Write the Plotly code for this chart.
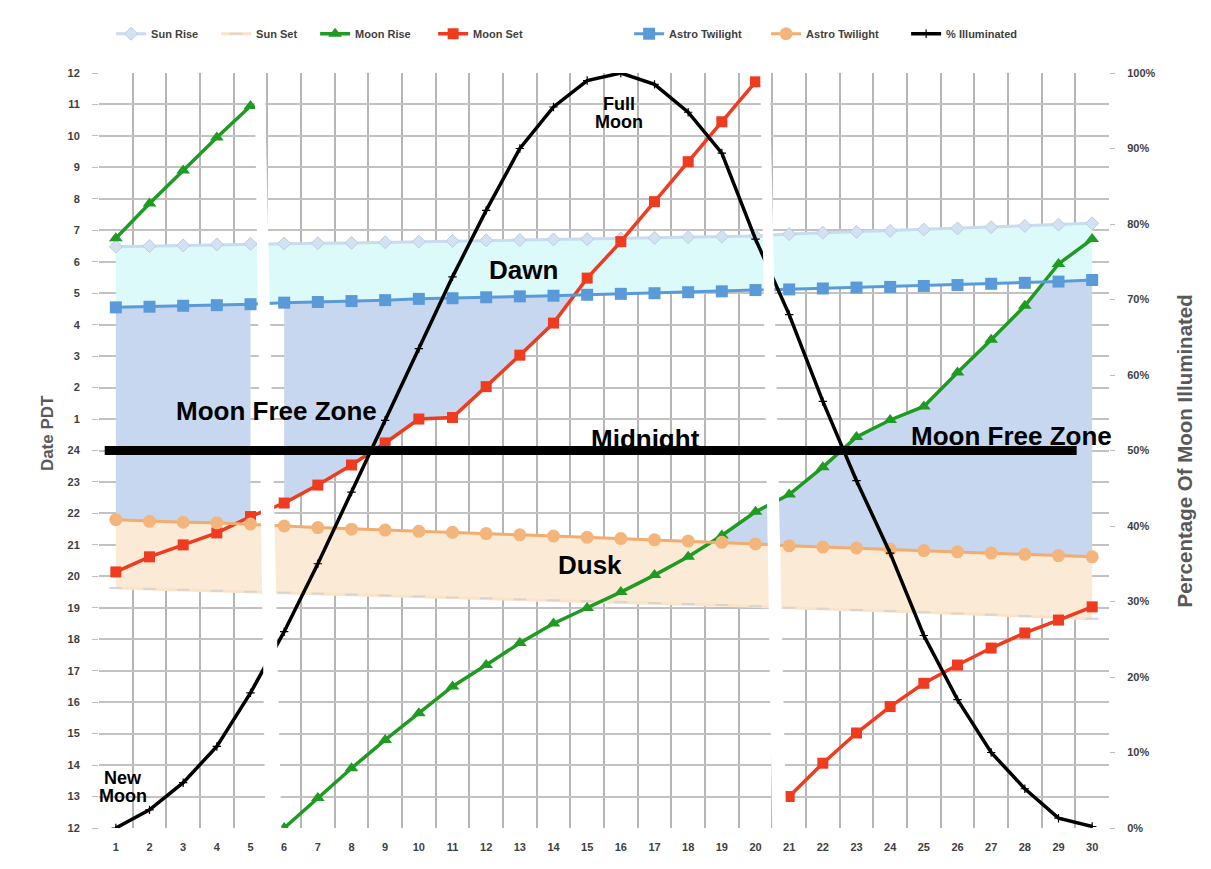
import numpy as np
import plotly.graph_objects as go

# ---------------- data (hours on a noon-to-noon scale: 12 = noon, 24 = midnight, 36 = next noon)
days = list(range(1, 31))

sun_rise = [30.48, 30.50, 30.52, 30.55, 30.57, 30.58, 30.59, 30.60, 30.62, 30.64,
            30.66, 30.68, 30.69, 30.71, 30.72, 30.74, 30.76, 30.78, 30.80, 30.82,
            30.88, 30.92, 30.95, 30.98, 31.02, 31.06, 31.10, 31.14, 31.18, 31.22]

sun_set = [19.63, 19.60, 19.57, 19.54, 19.51, 19.48, 19.45, 19.42, 19.39, 19.36,
           19.33, 19.30, 19.27, 19.24, 19.21, 19.18, 19.15, 19.12, 19.09, 19.05,
           19.00, 18.97, 18.93, 18.90, 18.86, 18.82, 18.78, 18.74, 18.70, 18.65]

moon_rise = [30.75, 31.85, 32.90, 33.95, 34.95, 12.00, 12.95, 13.90, 14.80, 15.65,
             16.50, 17.18, 17.88, 18.50, 18.99, 19.50, 20.04, 20.62, 21.30, 22.05,
             22.60, 23.47, 24.43, 24.97, 25.40, 26.48, 27.52, 28.60, 29.93, 30.72]

moon_set = [20.14, 20.62, 21.00, 21.38, 21.90, 22.33, 22.90, 23.54, 24.24, 25.00,
            25.05, 26.03, 27.03, 28.05, 29.48, 30.64, 31.91, 33.18, 34.45, 35.72,
            13.00, 14.06, 15.02, 15.86, 16.60, 17.18, 17.72, 18.20, 18.61, 19.03]

astro_am = [28.55, 28.57, 28.60, 28.62, 28.65, 28.70, 28.72, 28.75, 28.78, 28.82,
            28.84, 28.87, 28.90, 28.92, 28.95, 28.98, 29.00, 29.03, 29.06, 29.10,
            29.12, 29.15, 29.18, 29.20, 29.23, 29.26, 29.30, 29.33, 29.37, 29.42]

astro_pm = [21.80, 21.75, 21.72, 21.70, 21.66, 21.60, 21.55, 21.50, 21.47, 21.43,
            21.40, 21.36, 21.32, 21.28, 21.24, 21.20, 21.16, 21.12, 21.08, 21.03,
            20.97, 20.93, 20.90, 20.86, 20.82, 20.78, 20.74, 20.70, 20.66, 20.62]

illuminated = [0.0, 2.4, 6.0, 10.8, 17.9, 26.0, 35.0, 44.5, 54.0, 63.5,
               73.0, 81.8, 90.0, 95.5, 99.0, 100.0, 98.5, 94.8, 89.4, 78.0,
               68.0, 56.5, 46.0, 36.4, 25.5, 17.0, 10.0, 5.2, 1.3, 0.2]

hour_ticks = list(range(12, 37))
hour_labels = [str(h) if h <= 24 else str(h - 24) for h in hour_ticks]
pct_ticks = list(range(0, 101, 10))

FONT = "Liberation Sans, Arial, sans-serif"
VGRID = "#b6b6b6"
HGRID = "#c2c2c2"
TXT = "#3f3f3f"


# ---------------- helpers (fill polygons derived from the series)
def split_wraps(xs, ys):
    """Insert None where the time wraps around noon (big jump)."""
    ox, oy = [xs[0]], [ys[0]]
    for i in range(1, len(xs)):
        if abs(ys[i] - ys[i - 1]) > 12:
            ox.append(None)
            oy.append(None)
        ox.append(xs[i])
        oy.append(ys[i])
    return ox, oy


def cross_insert(xs, a, b):
    ox, oa, ob = [xs[0]], [a[0]], [b[0]]
    for i in range(1, len(xs)):
        d0 = a[i - 1] - b[i - 1]
        d1 = a[i] - b[i]
        if d0 * d1 < 0:
            t = d0 / (d0 - d1)
            xc = xs[i - 1] + t * (xs[i] - xs[i - 1])
            yc = a[i - 1] + t * (a[i] - a[i - 1])
            ox.append(xc); oa.append(yc); ob.append(yc)
        ox.append(xs[i]); oa.append(a[i]); ob.append(b[i])
    return ox, oa, ob


def band_polys(xs, lo, hi):
    xs2, lo2, hi2 = cross_insert(xs, lo, hi)
    polys, cur = [], []
    for x, l, h in zip(xs2, lo2, hi2):
        if h >= l - 1e-9:
            cur.append((x, l, h))
        else:
            if len(cur) > 1:
                polys.append(cur)
            cur = []
    if len(cur) > 1:
        polys.append(cur)
    out = []
    for p in polys:
        px = [q[0] for q in p] + [q[0] for q in p][::-1]
        py = [q[2] for q in p] + [q[1] for q in p][::-1]
        out.append((px, py))
    return out


d = np.array(days, dtype=float)
twi_am = np.array(astro_am)
twi_pm = np.array(astro_pm)
mr = np.array(moon_rise)
ms = np.array(moon_set)

moon_free = []
# days 1-5 : between max(evening twilight, moon set) and morning twilight
xa, ea, sa = cross_insert(list(d[0:5]), list(twi_pm[0:5]), list(ms[0:5]))
lo_a = list(np.maximum(ea, sa))
hi_a = list(np.interp(xa, d, twi_am))
moon_free += band_polys(xa, lo_a, hi_a)
# days 6-20 : between moon set and morning twilight
moon_free += band_polys(list(d[5:20]), list(ms[5:20]), list(twi_am[5:20]))
# days 6-30 : between evening twilight and min(moon rise, morning twilight)
xc, rc, tc = cross_insert(list(d[5:30]), list(mr[5:30]), list(twi_am[5:30]))
hi_c = list(np.minimum(rc, tc))
lo_c = list(np.interp(xc, d, twi_pm))
moon_free += band_polys(xc, lo_c, hi_c)

fig = go.Figure()

# dusk band
fig.add_trace(go.Scatter(x=days + days[::-1], y=astro_pm + sun_set[::-1], fill="toself",
                         fillcolor="#fbebd6", line=dict(width=0), mode="lines",
                         showlegend=False, hoverinfo="skip"))
# dawn band
fig.add_trace(go.Scatter(x=days + days[::-1], y=sun_rise + astro_am[::-1], fill="toself",
                         fillcolor="#dcfafa", line=dict(width=0), mode="lines",
                         showlegend=False, hoverinfo="skip"))
# moon free zone
for px, py in moon_free:
    fig.add_trace(go.Scatter(x=px, y=py, fill="toself", fillcolor="#c7d7ef",
                             line=dict(width=0), mode="lines",
                             showlegend=False, hoverinfo="skip"))

# series
fig.add_trace(go.Scatter(x=days, y=sun_rise, name="Sun Rise", mode="lines+markers",
                         line=dict(color="#c8dbef", width=3),
                         marker=dict(symbol="diamond", size=10, color="#d3e2f2",
                                     line=dict(color="#b9cde4", width=1)),
                         legendrank=1, legendwidth=60))
fig.add_trace(go.Scatter(x=days, y=sun_set, name="Sun Set", mode="lines+markers",
                         line=dict(color="#fbe3c9", width=3),
                         marker=dict(symbol="line-ew", size=9,
                                     line=dict(color="#d8d4d0", width=2)),
                         legendrank=2, legendwidth=54))
mrx, mry = split_wraps(days, moon_rise)
fig.add_trace(go.Scatter(x=mrx, y=mry, name="Moon Rise", mode="lines+markers",
                         line=dict(color="#1f9a22", width=3.5),
                         marker=dict(symbol="triangle-up", size=12, color="#1f9a22"),
                         legendrank=3, legendwidth=73))
msx, msy = split_wraps(days, moon_set)
fig.add_trace(go.Scatter(x=msx, y=msy, name="Moon Set", mode="lines+markers",
                         line=dict(color="#ef3b1f", width=3.5),
                         marker=dict(symbol="square", size=11, color="#ef3b1f"),
                         legendrank=4, legendwidth=151))
fig.add_trace(go.Scatter(x=days, y=astro_am, name="Astro Twilight", mode="lines+markers",
                         line=dict(color="#5b9ad8", width=3),
                         marker=dict(symbol="square", size=12, color="#5b9ad8"),
                         legendrank=5, legendwidth=92))
fig.add_trace(go.Scatter(x=days, y=astro_pm, name="Astro Twilight", mode="lines+markers",
                         line=dict(color="#f2ad6e", width=3),
                         marker=dict(symbol="circle", size=13, color="#f4b57c"),
                         legendrank=6, legendwidth=95))
fig.add_trace(go.Scatter(x=days, y=illuminated, name="% Illuminated", mode="lines+markers",
                         yaxis="y2", line=dict(color="#000000", width=3.5),
                         marker=dict(symbol="cross-thin", size=6,
                                     line=dict(color="#000000", width=1.2)),
                         legendrank=7, legendwidth=85))

# white stitching gaps of the original picture, then the midnight bar
shapes = [
    dict(type="path", xref="x", yref="y", path="M 5.12,35.9 L 5.42,35.9 L 5.92,11.8 L 5.45,11.8 Z",
         fillcolor="white", line=dict(width=0), layer="above"),
    dict(type="path", xref="x", yref="y", path="M 20.14,35.9 L 20.42,35.9 L 20.92,11.8 L 20.5,11.8 Z",
         fillcolor="white", line=dict(width=0), layer="above"),
    dict(type="line", xref="x", yref="y", x0=0.67, x1=29.54, y0=24, y1=24,
         line=dict(color="black", width=9), layer="above"),
]

big = dict(family=FONT, size=26, color="black", weight="bold")
small = dict(family=FONT, size=18, color="black", weight="bold")
annotations = [
    dict(x=5.77, y=25.24, text="Moon Free Zone", font=big),
    dict(x=27.61, y=24.45, text="Moon Free Zone", font=big),
    dict(x=16.72, y=24.38, text="Midnight", font=big),
    dict(x=13.12, y=29.75, text="Dawn", font=big),
    dict(x=15.08, y=20.36, text="Dusk", font=big),
    dict(x=15.96, y=35.02, text="Full", font=small),
    dict(x=15.96, y=34.45, text="Moon", font=small),
    dict(x=1.22, y=13.60, text="New", font=small),
    dict(x=1.22, y=13.01, text="Moon", font=small),
]
for a in annotations:
    a.update(xref="x", yref="y", showarrow=False, xanchor="center", yanchor="middle")

# axis titles placed as rotated annotations
annotations += [
    dict(xref="paper", yref="paper", x=-0.0515, y=0.523, text="Date PDT", textangle=-90,
         showarrow=False, xanchor="center", yanchor="middle",
         font=dict(family=FONT, size=17, color="#595959", weight="bold")),
    dict(xref="paper", yref="paper", x=1.0752, y=0.5, text="Percentage Of Moon Illuminated",
         textangle=-90, showarrow=False, xanchor="center", yanchor="middle",
         font=dict(family=FONT, size=20.5, color="#595959", weight="bold")),
]

# the page adds an 8px body margin, so the figure is 8px smaller than the window
fig.update_layout(
    width=1203, height=861,
    margin=dict(l=91, r=102, t=65, b=41, autoexpand=False),
    paper_bgcolor="white", plot_bgcolor="white",
    shapes=shapes, annotations=annotations,
    showlegend=True,
    legend=dict(orientation="h", x=0.012, xanchor="left", y=1.052, yanchor="middle",
                font=dict(family=FONT, size=11, color=TXT, weight="bold"),
                bgcolor="rgba(0,0,0,0)", itemwidth=30, traceorder="normal"),
    xaxis=dict(range=[0.5, 30.5], tickmode="array", tickvals=days,
               ticktext=[str(v) for v in days], showgrid=False, zeroline=False,
               showline=False, ticks="", ticklabelstandoff=11,
               tickfont=dict(family=FONT, size=11, color=TXT, weight="bold"),
               minor=dict(tickmode="array", tickvals=[v - 0.5 for v in days] + [30.5],
                          showgrid=True, gridcolor=VGRID, gridwidth=2, ticks="")),
    yaxis=dict(range=[12, 36], tickmode="array", tickvals=hour_ticks, ticktext=hour_labels,
               showgrid=True, gridcolor=HGRID, gridwidth=2, zeroline=False, showline=False,
               ticks="outside", ticklen=6, tickcolor="#bdbdbd", ticklabelstandoff=10,
               automargin=False,
               tickfont=dict(family=FONT, size=11, color=TXT, weight="bold")),
    yaxis2=dict(range=[0, 100], overlaying="y", side="right", tickmode="array",
                tickvals=pct_ticks, ticktext=[f"{v}%" for v in pct_ticks],
                showgrid=False, zeroline=False, showline=False, automargin=False,
                ticks="outside", ticklen=5, tickcolor="#bdbdbd", ticklabelstandoff=10,
                tickfont=dict(family=FONT, size=11, color=TXT, weight="bold")),
)

fig.write_html("out.html")
